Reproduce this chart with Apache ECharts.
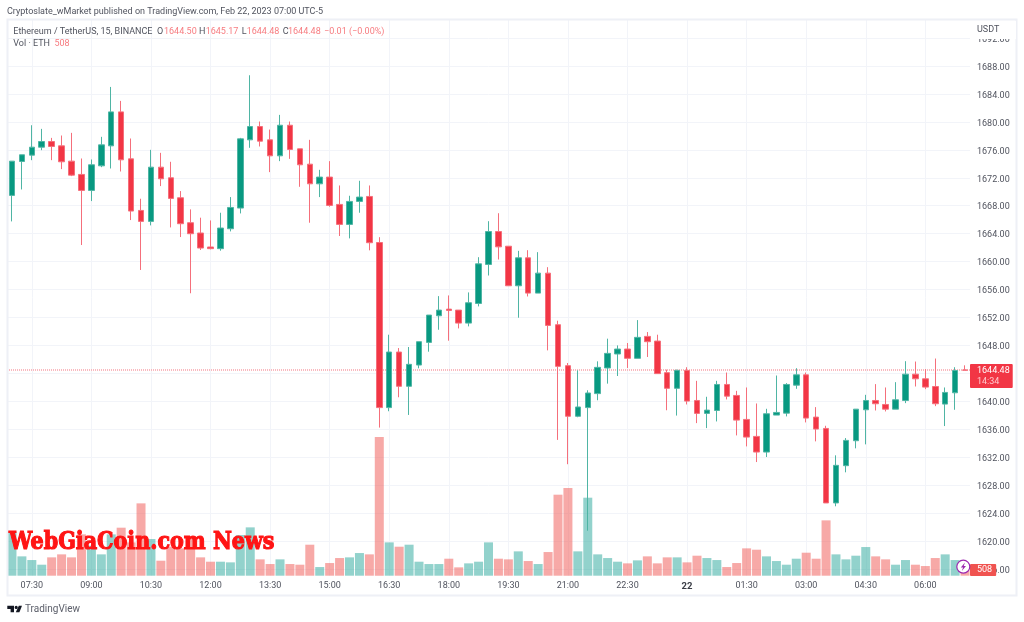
<!DOCTYPE html>
<html>
<head>
<meta charset="utf-8">
<style>
  html, body { margin: 0; padding: 0; background: #fff; }
  #chart { width: 1024px; height: 622px; }
  #chart canvas { filter: blur(0.35px); }
</style>
</head>
<body>
<div id="chart"></div>
<script src="https://cdn.jsdelivr.net/npm/echarts@6/dist/echarts.min.js"></script>
<script>
const times = [
  '07:00','07:15','07:30','07:45','08:00','08:15','08:30','08:45','09:00','09:15','09:30','09:45',
  '10:00','10:15','10:30','10:45','11:00','11:15','11:30','11:45','12:00','12:15','12:30','12:45',
  '13:00','13:15','13:30','13:45','14:00','14:15','14:30','14:45','15:00','15:15','15:30','15:45',
  '16:00','16:15','16:30','16:45','17:00','17:15','17:30','17:45','18:00','18:15','18:30','18:45',
  '19:00','19:15','19:30','19:45','20:00','20:15','20:30','20:45','21:00','21:15','21:30','21:45',
  '22:00','22:15','22:30','22:45','23:00','23:15','23:30','23:45','00:00','00:15','00:30','00:45',
  '01:00','01:15','01:30','01:45','02:00','02:15','02:30','02:45','03:00','03:15','03:30','03:45',
  '04:00','04:15','04:30','04:45','05:00','05:15','05:30','05:45','06:00','06:15','06:30','06:45','07:00'
]
const opens = [
  1669.48,1674.33,1675.24,1676.38,1677.19,1676.57,1674.38,1672.48,1670.19,1673.71,1676.57,1681.43,
  1674.71,1667.33,1665.76,1673.52,1672,1669.14,1665.57,1664.1,1662.1,1661.86,1664.71,1667.67,
  1677.43,1679.33,1677.43,1675.14,1679.52,1676.14,1673.95,1671.14,1672.1,1668.19,1665.33,1668.62,
  1669.33,1662.74,1639.12,1647.07,1642.17,1645.21,1648.45,1652.26,1653.21,1653.07,1651.21,1654.02,
  1659.6,1664.31,1662.21,1656.55,1660.55,1655.5,1658.36,1650.98,1645.12,1637.88,1639.12,1641.12,
  1644.79,1646.79,1647.5,1646.17,1649.31,1648.64,1644.12,1641.88,1644.43,1640.14,1638.29,1638.71,
  1642.43,1640.86,1637.43,1635,1632.76,1638.05,1638.33,1642.33,1643.81,1637.76,1636.14,1625.48,
  1630.81,1634.38,1638.81,1640.14,1639.57,1638.9,1640.14,1643.9,1643.24,1642.14,1639.62,1641.24,1644.5
]
const highs = [
  1674.4,1675.29,1679.52,1679,1677.71,1678.05,1678.43,1674.76,1674.62,1677.86,1685,1683,
  1677.62,1669,1676,1675.57,1674.29,1670.1,1667.48,1666.29,1665.9,1667,1669.24,1677.71,
  1686.67,1680.05,1678.9,1681,1680.05,1676.14,1677.43,1673.14,1674.38,1670.9,1669.43,1671.57,
  1670.9,1663.5,1649.55,1647.64,1647.79,1648.55,1652.36,1655.07,1655.17,1653.07,1655.6,1660.64,
  1665.79,1666.93,1662.21,1661.55,1661.64,1661.36,1659.21,1651.55,1645.5,1644.45,1641.6,1645.74,
  1648.98,1648.02,1648.36,1651.64,1649.93,1649.55,1644.55,1644.55,1644.9,1642.95,1640.67,1642.95,
  1644.14,1641.52,1642,1639.71,1638.95,1643.71,1642.62,1644.76,1644.14,1639.19,1636.52,1632.29,
  1634.76,1638.9,1640.95,1642.48,1642,1642.76,1645.76,1645.71,1644.62,1646.14,1642,1644.9,1645.17
]
const lows = [
  1665.76,1670.33,1674.52,1675.95,1674.52,1673.24,1672.24,1662.38,1668.67,1673.52,1673.33,1672.9,
  1665.95,1658.81,1665.19,1670.81,1664.9,1663.52,1655.48,1661.67,1661.76,1661.57,1664.33,1666.9,
  1676.29,1676.48,1672.81,1674.38,1674.71,1670.71,1665.57,1669.24,1667.86,1663.67,1663.33,1667,
  1661.62,1636.26,1638.6,1640.6,1638.07,1644.74,1647.12,1650.26,1648.69,1650.45,1650.74,1653.6,
  1658.02,1660.31,1656.55,1651.98,1655.02,1655.5,1647.31,1634.5,1631.02,1637.74,1621.5,1640.17,
  1642.55,1643.64,1644.79,1646.17,1646.36,1643.98,1638.74,1637.98,1639.57,1636.9,1636.19,1637.14,
  1640.29,1635.14,1633.57,1631.33,1632.05,1638.05,1637.86,1641.81,1637,1634.29,1625.48,1625,
  1629.86,1633.29,1633.86,1638.71,1638.57,1638.9,1639.76,1642.14,1641.76,1639.33,1636.48,1638.81,1644.48
]
const closes = [
  1674.38,1675.29,1676.38,1677.19,1676.48,1674.29,1672.38,1670.19,1673.86,1676.71,1681.43,1674.57,
  1667.24,1665.76,1673.52,1671.86,1669.05,1665.43,1664,1661.95,1661.86,1664.81,1667.76,1677.57,
  1679.33,1677.24,1675.14,1679.52,1676.05,1673.86,1671.14,1672.1,1668.05,1665.33,1668.62,1669.24,
  1662.71,1639.12,1647.07,1642.17,1645.31,1648.55,1652.36,1653.07,1653.02,1651.21,1654.12,1659.69,
  1664.31,1662.12,1656.55,1660.55,1655.5,1658.36,1650.88,1645.02,1637.88,1639.21,1641.21,1644.88,
  1646.88,1647.5,1646.17,1649.17,1648.55,1643.98,1641.88,1644.45,1640.05,1638.29,1638.76,1642.43,
  1640.76,1637.33,1634.9,1632.76,1638.24,1638.43,1642.43,1643.81,1637.62,1636.05,1625.48,1630.86,
  1634.43,1638.9,1640.14,1639.67,1638.9,1640.24,1643.9,1643.24,1642.05,1639.67,1641.29,1644.43,1644.48
]
const volumes = [
  3990,1740,1410,990,1650,1920,1650,3720,2700,1920,3720,4320,
  3000,6510,3300,1350,2610,2460,3510,1650,1260,1260,1200,3660,
  4350,1470,1050,1470,1050,990,2790,780,1140,1590,1650,2040,
  1920,12480,3000,2610,2790,1260,1050,1050,1530,750,1110,1260,
  3000,1530,1470,2190,1320,1050,2130,7290,7890,2190,7020,1920,
  1590,1260,1110,1380,1740,1110,1650,1650,1200,1800,1590,1410,
  780,1140,2460,2340,1740,1320,990,1530,2070,1530,4980,1920,
  1470,1800,2580,1740,1470,990,1410,990,870,1590,1920,1410,508
]
const lastPrice = 1644.48
const priceTagCenter = 1643.65
const lastVolume = 508
const countdown = '14:34'

const UP = '#089981'
const DOWN = '#f23645'
// wicks and body edges come out paler in the screenshot
const UP_EDGE = '#4fb5a4'
const DOWN_EDGE = '#f56f7b'
const GRID = '#f2f4f9'
const TEXT = '#50535e'
const CLEAR = 'rgba(0,0,0,0)'
const FONT = 'Roboto, sans-serif'

const isTick = (i) => i % 6 === 2

function txt(x, y, text, fill, extra) {
  return {
    type: 'text',
    z: 100,
    silent: true,
    style: Object.assign({ x, y, text, fill: fill || TEXT, font: '9px ' + FONT, textVerticalAlign: 'middle' }, extra)
  }
}

const chart = echarts.init(document.getElementById('chart'), null, { renderer: 'canvas' })

chart.setOption({
  animation: false,
  backgroundColor: '#fff',
  grid: [
    { left: 7, width: 963, top: 38, height: 531.2 },
    { left: 7, width: 963, top: 19, height: 556.7 }
  ],
  xAxis: [
    { type: 'category', gridIndex: 0, data: times, show: false },
    {
      type: 'category',
      gridIndex: 1,
      data: times,
      axisLine: { show: false },
      axisTick: { show: false },
      axisLabel: {
        interval: (i) => isTick(i),
        margin: 6,
        fontSize: 9,
        fontFamily: FONT,
        color: TEXT,
        formatter: (v) => (v === '00:00' ? '{day|22}' : v),
        rich: { day: { fontSize: 9.5, fontWeight: 'bold', fontFamily: FONT, color: '#3a3d46' } }
      },
      splitLine: {
        show: true,
        alignWithLabel: true,
        interval: (i) => isTick(i),
        lineStyle: { color: GRID, width: 1 }
      }
    }
  ],
  yAxis: [
    {
      type: 'value',
      gridIndex: 0,
      position: 'right',
      min: 1616,
      max: 1692,
      interval: 4,
      axisLine: { show: false },
      axisTick: { show: false },
      axisLabel: {
        margin: 7,
        fontSize: 9,
        fontFamily: FONT,
        color: TEXT,
        verticalAlign: 'top',
        lineHeight: 3,
        formatter: (v) => v.toFixed(2)
      },
      splitLine: { lineStyle: { color: GRID, width: 1 } }
    },
    {
      type: 'value',
      gridIndex: 1,
      min: 0,
      max: 50100,
      show: false,
      splitLine: { show: false }
    }
  ],
  series: [
    // holder for the last price line, so it stays behind the candles
    {
      type: 'line',
      xAxisIndex: 0,
      yAxisIndex: 0,
      z: 1,
      data: [],
      markLine: {
        silent: true,
        symbol: 'none',
        precision: 2,
        z: 1,
        data: [
          {
            yAxis: lastPrice,
            lineStyle: { color: '#f7a3aa', type: [1, 1], width: 1.5, opacity: 1 },
            label: { show: false }
          }
        ]
      }
    },
    {
      type: 'bar',
      xAxisIndex: 1,
      yAxisIndex: 1,
      barWidth: 9,
      z: 2,
      data: volumes.map((v, i) => ({
        value: v,
        itemStyle: { color: closes[i] >= opens[i] ? 'rgba(38,166,154,0.5)' : 'rgba(239,83,80,0.5)' }
      })),
      markLine: {
        silent: true,
        symbol: 'none',
        data: [{ yAxis: lastVolume }],
        lineStyle: { color: CLEAR },
        label: {
          show: true,
          position: 'end',
          distance: 0,
          formatter: String(lastVolume),
          color: '#fff',
          fontSize: 9,
          fontFamily: FONT,
          backgroundColor: '#f05350',
          padding: [2, 4, 1, 7],
          borderRadius: 1
        }
      }
    },
    {
      type: 'candlestick',
      xAxisIndex: 0,
      yAxisIndex: 0,
      barWidth: 6,
      z: 3,
      itemStyle: {
        color: UP,
        color0: DOWN,
        borderColor: UP_EDGE,
        borderColor0: DOWN_EDGE,
        borderWidth: 1
      },
      data: times.map((t, i) => [opens[i], closes[i], lows[i], highs[i]]),
      markLine: {
        silent: true,
        symbol: 'none',
        precision: 2,
        data: [
          {
            yAxis: priceTagCenter,
            lineStyle: { color: CLEAR },
            label: {
              show: true,
              position: 'end',
              distance: 0,
              formatter: lastPrice.toFixed(2) + '\n{t|' + countdown + '}',
              color: '#fff',
              fontSize: 9,
              lineHeight: 11,
              fontFamily: FONT,
              backgroundColor: DOWN,
              padding: [1, 3, 1, 7],
              borderRadius: 1,
              rich: { t: { color: '#ffc9ce', fontSize: 9, lineHeight: 11, fontFamily: FONT } }
            }
          }
        ]
      }
    }
  ],
  graphic: [
    { type: 'rect', z: 90, silent: true, shape: { x: 7.5, y: 19.5, width: 1009, height: 576 }, style: { fill: 'none', stroke: '#eef0f6', lineWidth: 2 } },
    { type: 'rect', z: 91, silent: true, shape: { x: 971, y: 21, width: 45, height: 18 }, style: { fill: '#fff' } },
    txt(977, 29.5, 'USDT'),
    txt(7, 11.5, 'Cryptoslate_wMarket published on TradingView.com, Feb 22, 2023 07:00 UTC-5'),
    txt(13.3, 31.5, 'Ethereum / TetherUS, 15, BINANCE'),
    txt(157, 31.5, 'O'), txt(164, 31.5, '1644.50', '#f77c80'),
    txt(199, 31.5, 'H'), txt(205.7, 31.5, '1645.17', '#f77c80'),
    txt(241.7, 31.5, 'L'), txt(246.7, 31.5, '1644.48', '#f77c80'),
    txt(282.7, 31.5, 'C'), txt(288, 31.5, '1644.48', '#f77c80'),
    txt(324, 31.5, '\u22120.01 (\u22120.00%)', '#f77c80'),
    txt(13.3, 43.5, 'Vol \u00b7 ETH'),
    txt(54.5, 43.5, '508', '#f77c80'),
    {
      type: 'text',
      z: 100,
      silent: true,
      x: 9,
      y: 543,
      scaleY: 1.2,
      style: {
        x: 0,
        y: 0,
        text: 'WebGiaCoin.com News',
        fill: '#ff1414',
        stroke: '#ff1414',
        lineWidth: 1,
        font: 'bold 20.7px "DejaVu Serif", serif',
        textVerticalAlign: 'middle'
      }
    },
    { type: 'circle', z: 95, silent: true, shape: { cx: 963.3, cy: 566.7, r: 6.5 }, style: { fill: '#fff', stroke: '#9c27b0', lineWidth: 1.2 } },
    { type: 'polygon', z: 96, silent: true, shape: { points: [[965, 562.5], [960.8, 567.4], [963.1, 567.4], [961.8, 571], [966, 566], [963.7, 566]] }, style: { fill: '#9c27b0' } },
    { type: 'polygon', z: 96, silent: true, shape: { points: [[7.3, 605.7], [14, 605.7], [14, 612.3], [10.6, 612.3], [10.6, 609], [7.3, 609]] }, style: { fill: '#131722' } },
    { type: 'circle', z: 96, silent: true, shape: { cx: 16.2, cy: 607.4, r: 1.6 }, style: { fill: '#131722' } },
    { type: 'polygon', z: 96, silent: true, shape: { points: [[18.8, 605.7], [22, 605.7], [19.4, 612.3], [15.8, 612.3]] }, style: { fill: '#131722' } },
    txt(25, 609, 'TradingView', '#5d606b', { font: '10px ' + FONT })
  ]
})
</script>
</body>
</html>
